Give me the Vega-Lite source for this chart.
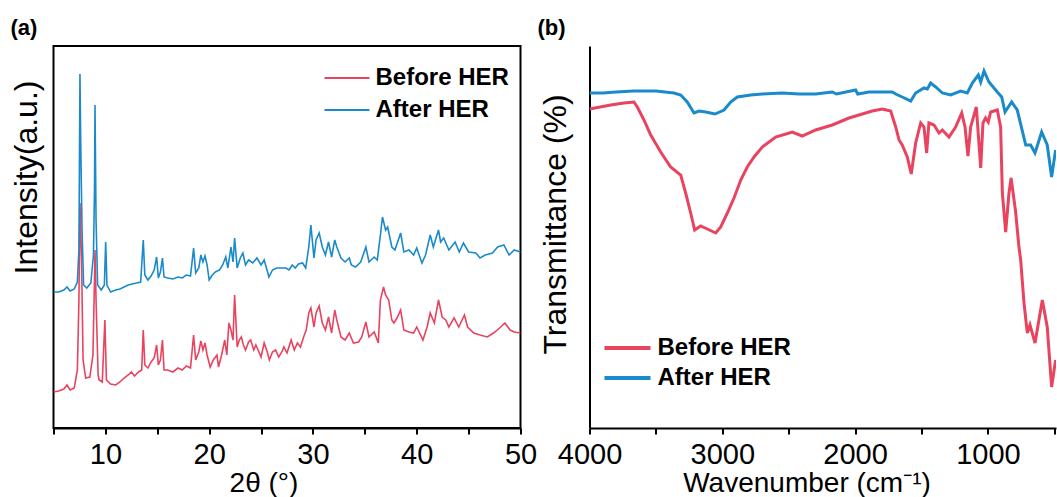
{
  "$schema": "https://vega.github.io/schema/vega-lite/v6.json",
  "background": "white",
  "padding": {"left": 9.5, "top": 16, "right": 0, "bottom": 0},
  "spacing": 69,
  "bounds": "flush",
  "resolve": {"scale": {"color": "independent"}, "legend": {"color": "independent"}},
  "config": {
    "font": "Liberation Sans",
    "view": {"stroke": "#000", "strokeWidth": 2},
    "axis": {"labelFont": "Liberation Sans", "titleFont": "Liberation Sans", "labelFontSize": 29, "titleFontSize": 30, "titleFontWeight": "normal", "labelColor": "#000", "titleColor": "#000", "domainColor": "#000", "tickColor": "#000", "domainWidth": 2, "tickWidth": 2, "tickSize": 6, "grid": false, "labelFlush": false, "labelOverlap": false},
    "legend": {"labelFont": "Liberation Sans", "labelFontSize": 24, "labelFontWeight": "bold", "labelColor": "#000", "padding": 0},
    "title": {"font": "Liberation Sans", "fontSize": 22, "fontWeight": "bold", "color": "#000", "anchor": "start", "frame": "bounds", "offset": 6}
  },
  "hconcat": [
    {
      "width": 467,
      "height": 382,
      "title": {"text": "(a)", "dx": 0},
      "data": {"values": [
        {"t":5,"v":36,"s":"Before HER"},{"t":5.5,"v":37,"s":"Before HER"},{"t":6,"v":39,"s":"Before HER"},{"t":6.3,"v":43,"s":"Before HER"},{"t":6.6,"v":38,"s":"Before HER"},{"t":7,"v":40,"s":"Before HER"},{"t":7.3,"v":58,"s":"Before HER"},{"t":7.45,"v":128,"s":"Before HER"},{"t":7.55,"v":225,"s":"Before HER"},{"t":7.7,"v":168,"s":"Before HER"},{"t":7.85,"v":68,"s":"Before HER"},{"t":8.1,"v":50,"s":"Before HER"},{"t":8.5,"v":51,"s":"Before HER"},{"t":8.8,"v":73,"s":"Before HER"},{"t":8.95,"v":148,"s":"Before HER"},{"t":9,"v":178,"s":"Before HER"},{"t":9.1,"v":128,"s":"Before HER"},{"t":9.3,"v":53,"s":"Before HER"},{"t":9.4,"v":48,"s":"Before HER"},{"t":9.7,"v":46,"s":"Before HER"},{"t":9.95,"v":108,"s":"Before HER"},{"t":10.1,"v":48,"s":"Before HER"},{"t":10.5,"v":44,"s":"Before HER"},{"t":11,"v":43,"s":"Before HER"},{"t":11.4,"v":46,"s":"Before HER"},{"t":11.8,"v":50,"s":"Before HER"},{"t":12.2,"v":53,"s":"Before HER"},{"t":12.5,"v":56,"s":"Before HER"},{"t":12.8,"v":52,"s":"Before HER"},{"t":13.2,"v":56,"s":"Before HER"},{"t":13.5,"v":58,"s":"Before HER"},{"t":13.65,"v":98,"s":"Before HER"},{"t":13.8,"v":63,"s":"Before HER"},{"t":14.1,"v":60,"s":"Before HER"},{"t":14.4,"v":66,"s":"Before HER"},{"t":14.7,"v":70,"s":"Before HER"},{"t":14.94,"v":83,"s":"Before HER"},{"t":15.1,"v":63,"s":"Before HER"},{"t":15.3,"v":68,"s":"Before HER"},{"t":15.5,"v":88,"s":"Before HER"},{"t":15.65,"v":58,"s":"Before HER"},{"t":16,"v":58,"s":"Before HER"},{"t":16.5,"v":56,"s":"Before HER"},{"t":17,"v":60,"s":"Before HER"},{"t":17.4,"v":58,"s":"Before HER"},{"t":17.8,"v":62,"s":"Before HER"},{"t":18.2,"v":60,"s":"Before HER"},{"t":18.5,"v":93,"s":"Before HER"},{"t":18.7,"v":68,"s":"Before HER"},{"t":19,"v":76,"s":"Before HER"},{"t":19.2,"v":87,"s":"Before HER"},{"t":19.4,"v":78,"s":"Before HER"},{"t":19.6,"v":85,"s":"Before HER"},{"t":19.8,"v":73,"s":"Before HER"},{"t":20.1,"v":61,"s":"Before HER"},{"t":20.4,"v":68,"s":"Before HER"},{"t":20.75,"v":73,"s":"Before HER"},{"t":20.9,"v":61,"s":"Before HER"},{"t":21.2,"v":73,"s":"Before HER"},{"t":21.5,"v":88,"s":"Before HER"},{"t":21.7,"v":73,"s":"Before HER"},{"t":21.9,"v":105,"s":"Before HER"},{"t":22.1,"v":98,"s":"Before HER"},{"t":22.3,"v":88,"s":"Before HER"},{"t":22.45,"v":133,"s":"Before HER"},{"t":22.7,"v":81,"s":"Before HER"},{"t":22.9,"v":88,"s":"Before HER"},{"t":23.1,"v":91,"s":"Before HER"},{"t":23.3,"v":83,"s":"Before HER"},{"t":23.5,"v":78,"s":"Before HER"},{"t":23.8,"v":86,"s":"Before HER"},{"t":24,"v":88,"s":"Before HER"},{"t":24.3,"v":78,"s":"Before HER"},{"t":24.5,"v":83,"s":"Before HER"},{"t":24.8,"v":76,"s":"Before HER"},{"t":25,"v":71,"s":"Before HER"},{"t":25.3,"v":85,"s":"Before HER"},{"t":25.6,"v":76,"s":"Before HER"},{"t":25.8,"v":68,"s":"Before HER"},{"t":26.1,"v":76,"s":"Before HER"},{"t":26.4,"v":78,"s":"Before HER"},{"t":26.7,"v":71,"s":"Before HER"},{"t":27,"v":76,"s":"Before HER"},{"t":27.2,"v":81,"s":"Before HER"},{"t":27.5,"v":75,"s":"Before HER"},{"t":27.9,"v":88,"s":"Before HER"},{"t":28.2,"v":78,"s":"Before HER"},{"t":28.5,"v":85,"s":"Before HER"},{"t":28.8,"v":81,"s":"Before HER"},{"t":29.1,"v":91,"s":"Before HER"},{"t":29.35,"v":98,"s":"Before HER"},{"t":29.6,"v":115,"s":"Before HER"},{"t":29.8,"v":120,"s":"Before HER"},{"t":30.1,"v":101,"s":"Before HER"},{"t":30.3,"v":115,"s":"Before HER"},{"t":30.6,"v":122,"s":"Before HER"},{"t":30.9,"v":105,"s":"Before HER"},{"t":31.2,"v":98,"s":"Before HER"},{"t":31.5,"v":111,"s":"Before HER"},{"t":31.8,"v":95,"s":"Before HER"},{"t":32.1,"v":118,"s":"Before HER"},{"t":32.3,"v":108,"s":"Before HER"},{"t":32.7,"v":91,"s":"Before HER"},{"t":33.1,"v":88,"s":"Before HER"},{"t":33.5,"v":95,"s":"Before HER"},{"t":33.9,"v":85,"s":"Before HER"},{"t":34.4,"v":86,"s":"Before HER"},{"t":34.7,"v":91,"s":"Before HER"},{"t":35.1,"v":106,"s":"Before HER"},{"t":35.4,"v":91,"s":"Before HER"},{"t":35.9,"v":96,"s":"Before HER"},{"t":36.3,"v":85,"s":"Before HER"},{"t":36.5,"v":128,"s":"Before HER"},{"t":36.8,"v":141,"s":"Before HER"},{"t":37,"v":133,"s":"Before HER"},{"t":37.3,"v":128,"s":"Before HER"},{"t":37.6,"v":108,"s":"Before HER"},{"t":37.8,"v":105,"s":"Before HER"},{"t":38.1,"v":110,"s":"Before HER"},{"t":38.45,"v":118,"s":"Before HER"},{"t":38.76,"v":98,"s":"Before HER"},{"t":39.25,"v":96,"s":"Before HER"},{"t":39.7,"v":95,"s":"Before HER"},{"t":40,"v":101,"s":"Before HER"},{"t":40.6,"v":88,"s":"Before HER"},{"t":41,"v":101,"s":"Before HER"},{"t":41.3,"v":115,"s":"Before HER"},{"t":41.7,"v":105,"s":"Before HER"},{"t":42.1,"v":128,"s":"Before HER"},{"t":42.45,"v":111,"s":"Before HER"},{"t":42.8,"v":108,"s":"Before HER"},{"t":43.1,"v":101,"s":"Before HER"},{"t":43.6,"v":110,"s":"Before HER"},{"t":44.05,"v":101,"s":"Before HER"},{"t":44.6,"v":113,"s":"Before HER"},{"t":44.9,"v":101,"s":"Before HER"},{"t":45.5,"v":95,"s":"Before HER"},{"t":46.1,"v":93,"s":"Before HER"},{"t":46.8,"v":91,"s":"Before HER"},{"t":47.4,"v":95,"s":"Before HER"},{"t":48.1,"v":101,"s":"Before HER"},{"t":48.5,"v":105,"s":"Before HER"},{"t":49,"v":98,"s":"Before HER"},{"t":49.4,"v":96,"s":"Before HER"},{"t":50,"v":95,"s":"Before HER"},
        {"t":5,"v":136,"s":"After HER"},{"t":5.5,"v":136,"s":"After HER"},{"t":6,"v":138,"s":"After HER"},{"t":6.3,"v":141,"s":"After HER"},{"t":6.6,"v":137,"s":"After HER"},{"t":7,"v":139,"s":"After HER"},{"t":7.3,"v":146,"s":"After HER"},{"t":7.45,"v":178,"s":"After HER"},{"t":7.55,"v":354,"s":"After HER"},{"t":7.62,"v":288,"s":"After HER"},{"t":7.75,"v":198,"s":"After HER"},{"t":7.9,"v":143,"s":"After HER"},{"t":8.2,"v":140,"s":"After HER"},{"t":8.6,"v":145,"s":"After HER"},{"t":8.85,"v":173,"s":"After HER"},{"t":8.95,"v":238,"s":"After HER"},{"t":9,"v":323,"s":"After HER"},{"t":9.1,"v":208,"s":"After HER"},{"t":9.25,"v":143,"s":"After HER"},{"t":9.6,"v":138,"s":"After HER"},{"t":9.9,"v":143,"s":"After HER"},{"t":10.03,"v":186,"s":"After HER"},{"t":10.15,"v":143,"s":"After HER"},{"t":10.5,"v":136,"s":"After HER"},{"t":11,"v":138,"s":"After HER"},{"t":11.4,"v":139,"s":"After HER"},{"t":11.8,"v":141,"s":"After HER"},{"t":12.2,"v":143,"s":"After HER"},{"t":12.6,"v":144,"s":"After HER"},{"t":13,"v":145,"s":"After HER"},{"t":13.4,"v":146,"s":"After HER"},{"t":13.65,"v":188,"s":"After HER"},{"t":13.8,"v":153,"s":"After HER"},{"t":14.1,"v":148,"s":"After HER"},{"t":14.4,"v":152,"s":"After HER"},{"t":14.7,"v":158,"s":"After HER"},{"t":14.94,"v":171,"s":"After HER"},{"t":15.1,"v":150,"s":"After HER"},{"t":15.3,"v":156,"s":"After HER"},{"t":15.5,"v":170,"s":"After HER"},{"t":15.65,"v":151,"s":"After HER"},{"t":16,"v":150,"s":"After HER"},{"t":16.5,"v":149,"s":"After HER"},{"t":17,"v":151,"s":"After HER"},{"t":17.4,"v":150,"s":"After HER"},{"t":17.8,"v":153,"s":"After HER"},{"t":18.2,"v":152,"s":"After HER"},{"t":18.5,"v":180,"s":"After HER"},{"t":18.7,"v":155,"s":"After HER"},{"t":19,"v":160,"s":"After HER"},{"t":19.2,"v":173,"s":"After HER"},{"t":19.4,"v":166,"s":"After HER"},{"t":19.6,"v":172,"s":"After HER"},{"t":19.8,"v":163,"s":"After HER"},{"t":20,"v":148,"s":"After HER"},{"t":20.3,"v":153,"s":"After HER"},{"t":20.6,"v":156,"s":"After HER"},{"t":21,"v":158,"s":"After HER"},{"t":21.3,"v":163,"s":"After HER"},{"t":21.6,"v":171,"s":"After HER"},{"t":21.8,"v":160,"s":"After HER"},{"t":22.1,"v":181,"s":"After HER"},{"t":22.3,"v":166,"s":"After HER"},{"t":22.45,"v":190,"s":"After HER"},{"t":22.7,"v":160,"s":"After HER"},{"t":23,"v":170,"s":"After HER"},{"t":23.25,"v":175,"s":"After HER"},{"t":23.5,"v":163,"s":"After HER"},{"t":23.8,"v":168,"s":"After HER"},{"t":24.2,"v":165,"s":"After HER"},{"t":24.6,"v":170,"s":"After HER"},{"t":25,"v":163,"s":"After HER"},{"t":25.3,"v":168,"s":"After HER"},{"t":25.76,"v":151,"s":"After HER"},{"t":26.1,"v":158,"s":"After HER"},{"t":26.5,"v":160,"s":"After HER"},{"t":27.1,"v":160,"s":"After HER"},{"t":27.4,"v":160,"s":"After HER"},{"t":27.7,"v":158,"s":"After HER"},{"t":28,"v":163,"s":"After HER"},{"t":28.3,"v":160,"s":"After HER"},{"t":28.6,"v":164,"s":"After HER"},{"t":29,"v":165,"s":"After HER"},{"t":29.3,"v":160,"s":"After HER"},{"t":29.6,"v":181,"s":"After HER"},{"t":29.8,"v":203,"s":"After HER"},{"t":30.1,"v":170,"s":"After HER"},{"t":30.3,"v":188,"s":"After HER"},{"t":30.6,"v":195,"s":"After HER"},{"t":30.9,"v":181,"s":"After HER"},{"t":31.2,"v":173,"s":"After HER"},{"t":31.5,"v":186,"s":"After HER"},{"t":31.8,"v":171,"s":"After HER"},{"t":32.1,"v":188,"s":"After HER"},{"t":32.3,"v":181,"s":"After HER"},{"t":32.7,"v":170,"s":"After HER"},{"t":33.1,"v":166,"s":"After HER"},{"t":33.5,"v":170,"s":"After HER"},{"t":33.7,"v":163,"s":"After HER"},{"t":34.1,"v":161,"s":"After HER"},{"t":34.6,"v":166,"s":"After HER"},{"t":35.1,"v":181,"s":"After HER"},{"t":35.4,"v":166,"s":"After HER"},{"t":35.9,"v":171,"s":"After HER"},{"t":36.2,"v":168,"s":"After HER"},{"t":36.5,"v":193,"s":"After HER"},{"t":36.7,"v":211,"s":"After HER"},{"t":37,"v":198,"s":"After HER"},{"t":37.2,"v":201,"s":"After HER"},{"t":37.6,"v":181,"s":"After HER"},{"t":37.9,"v":178,"s":"After HER"},{"t":38.45,"v":195,"s":"After HER"},{"t":38.76,"v":176,"s":"After HER"},{"t":39.25,"v":178,"s":"After HER"},{"t":39.7,"v":173,"s":"After HER"},{"t":40,"v":180,"s":"After HER"},{"t":40.5,"v":165,"s":"After HER"},{"t":40.85,"v":173,"s":"After HER"},{"t":41.3,"v":193,"s":"After HER"},{"t":41.6,"v":181,"s":"After HER"},{"t":42.1,"v":198,"s":"After HER"},{"t":42.3,"v":186,"s":"After HER"},{"t":42.6,"v":190,"s":"After HER"},{"t":43.1,"v":178,"s":"After HER"},{"t":43.7,"v":186,"s":"After HER"},{"t":44.1,"v":176,"s":"After HER"},{"t":44.5,"v":185,"s":"After HER"},{"t":45,"v":176,"s":"After HER"},{"t":45.7,"v":175,"s":"After HER"},{"t":46.1,"v":170,"s":"After HER"},{"t":46.6,"v":173,"s":"After HER"},{"t":47.3,"v":175,"s":"After HER"},{"t":47.8,"v":181,"s":"After HER"},{"t":48.4,"v":183,"s":"After HER"},{"t":48.9,"v":173,"s":"After HER"},{"t":49.4,"v":178,"s":"After HER"},{"t":50,"v":176,"s":"After HER"}
      ]},
      "mark": {"type": "line", "strokeWidth": 1.6, "clip": true},
      "encoding": {
        "x": {"field": "t", "type": "quantitative", "scale": {"domain": [5, 50], "nice": false, "zero": false},
          "axis": {"title": "2θ (°)", "titleFontSize": 28, "values": [5,10,15,20,25,30,35,40,45,50], "labelExpr": "datum.value % 10 === 0 ? datum.label : ''", "labelPadding": 6, "titlePadding": 0, "titleX": 210}},
        "y": {"field": "v", "type": "quantitative", "scale": {"domain": [0, 382], "nice": false},
          "axis": {"title": "Intensity(a.u.)", "titleFontSize": 32, "labels": false, "ticks": false, "domain": false, "titlePadding": 10, "titleY": 131}},
        "color": {"field": "s", "type": "nominal", "sort": null,
          "scale": {"domain": ["Before HER", "After HER"], "range": ["#E8435F", "#1A8ACB"]},
          "legend": {"title": null, "orient": "none", "legendX": 270, "legendY": 17, "symbolType": "stroke", "symbolSize": 2025, "symbolStrokeWidth": 2, "clipHeight": 30, "rowPadding": 2, "labelOffset": 5}}
      }
    },
    {
      "width": 466.5,
      "height": 382,
      "view": {"stroke": null},
      "title": {"text": "(b)", "dx": -2},
      "layer": [
        {
          "data": {"values": [
            {"w":4000,"v":319,"s":"Before HER"},{"w":3840,"v":323,"s":"Before HER"},{"w":3740,"v":325,"s":"Before HER"},{"w":3665,"v":326,"s":"Before HER"},{"w":3640,"v":321,"s":"Before HER"},{"w":3590,"v":308,"s":"Before HER"},{"w":3539,"v":293,"s":"Before HER"},{"w":3464,"v":276,"s":"Before HER"},{"w":3389,"v":261,"s":"Before HER"},{"w":3313,"v":253,"s":"Before HER"},{"w":3276,"v":235,"s":"Before HER"},{"w":3238,"v":215,"s":"Before HER"},{"w":3208,"v":198,"s":"Before HER"},{"w":3163,"v":202,"s":"Before HER"},{"w":3113,"v":199,"s":"Before HER"},{"w":3050,"v":195,"s":"Before HER"},{"w":3012,"v":201,"s":"Before HER"},{"w":2962,"v":215,"s":"Before HER"},{"w":2912,"v":230,"s":"Before HER"},{"w":2861,"v":248,"s":"Before HER"},{"w":2812,"v":261,"s":"Before HER"},{"w":2761,"v":271,"s":"Before HER"},{"w":2699,"v":281,"s":"Before HER"},{"w":2598,"v":291,"s":"Before HER"},{"w":2473,"v":296,"s":"Before HER"},{"w":2398,"v":292,"s":"Before HER"},{"w":2297,"v":298,"s":"Before HER"},{"w":2172,"v":303,"s":"Before HER"},{"w":2046,"v":310,"s":"Before HER"},{"w":1971,"v":313,"s":"Before HER"},{"w":1871,"v":317,"s":"Before HER"},{"w":1795,"v":319,"s":"Before HER"},{"w":1732,"v":317,"s":"Before HER"},{"w":1694,"v":301,"s":"Before HER"},{"w":1669,"v":288,"s":"Before HER"},{"w":1645,"v":283,"s":"Before HER"},{"w":1607,"v":271,"s":"Before HER"},{"w":1577,"v":254,"s":"Before HER"},{"w":1544,"v":285,"s":"Before HER"},{"w":1506,"v":305,"s":"Before HER"},{"w":1481,"v":301,"s":"Before HER"},{"w":1461,"v":275,"s":"Before HER"},{"w":1444,"v":305,"s":"Before HER"},{"w":1406,"v":303,"s":"Before HER"},{"w":1368,"v":295,"s":"Before HER"},{"w":1343,"v":298,"s":"Before HER"},{"w":1293,"v":291,"s":"Before HER"},{"w":1243,"v":301,"s":"Before HER"},{"w":1197,"v":315,"s":"Before HER"},{"w":1172,"v":301,"s":"Before HER"},{"w":1150,"v":272,"s":"Before HER"},{"w":1130,"v":301,"s":"Before HER"},{"w":1087,"v":321,"s":"Before HER"},{"w":1054,"v":260,"s":"Before HER"},{"w":1037,"v":305,"s":"Before HER"},{"w":1017,"v":310,"s":"Before HER"},{"w":997,"v":306,"s":"Before HER"},{"w":979,"v":316,"s":"Before HER"},{"w":929,"v":318,"s":"Before HER"},{"w":904,"v":301,"s":"Before HER"},{"w":891,"v":235,"s":"Before HER"},{"w":866,"v":196,"s":"Before HER"},{"w":841,"v":235,"s":"Before HER"},{"w":825,"v":250,"s":"Before HER"},{"w":791,"v":216,"s":"Before HER"},{"w":766,"v":181,"s":"Before HER"},{"w":753,"v":168,"s":"Before HER"},{"w":728,"v":125,"s":"Before HER"},{"w":703,"v":95,"s":"Before HER"},{"w":683,"v":103,"s":"Before HER"},{"w":645,"v":85,"s":"Before HER"},{"w":590,"v":128,"s":"Before HER"},{"w":553,"v":101,"s":"Before HER"},{"w":520,"v":41,"s":"Before HER"},{"w":490,"v":68,"s":"Before HER"},
            {"w":4000,"v":335,"s":"After HER"},{"w":3900,"v":335,"s":"After HER"},{"w":3800,"v":336,"s":"After HER"},{"w":3665,"v":337,"s":"After HER"},{"w":3500,"v":337,"s":"After HER"},{"w":3364,"v":335,"s":"After HER"},{"w":3313,"v":333,"s":"After HER"},{"w":3264,"v":326,"s":"After HER"},{"w":3213,"v":315,"s":"After HER"},{"w":3175,"v":317,"s":"After HER"},{"w":3125,"v":316,"s":"After HER"},{"w":3055,"v":314,"s":"After HER"},{"w":2987,"v":318,"s":"After HER"},{"w":2937,"v":326,"s":"After HER"},{"w":2887,"v":331,"s":"After HER"},{"w":2786,"v":333,"s":"After HER"},{"w":2700,"v":334,"s":"After HER"},{"w":2548,"v":335,"s":"After HER"},{"w":2422,"v":334,"s":"After HER"},{"w":2297,"v":334,"s":"After HER"},{"w":2172,"v":336,"s":"After HER"},{"w":2140,"v":334,"s":"After HER"},{"w":1996,"v":338,"s":"After HER"},{"w":1980,"v":334,"s":"After HER"},{"w":1895,"v":336,"s":"After HER"},{"w":1820,"v":336,"s":"After HER"},{"w":1745,"v":336,"s":"After HER"},{"w":1720,"v":336,"s":"After HER"},{"w":1694,"v":334,"s":"After HER"},{"w":1645,"v":331,"s":"After HER"},{"w":1581,"v":327,"s":"After HER"},{"w":1544,"v":335,"s":"After HER"},{"w":1481,"v":340,"s":"After HER"},{"w":1456,"v":339,"s":"After HER"},{"w":1431,"v":345,"s":"After HER"},{"w":1393,"v":341,"s":"After HER"},{"w":1343,"v":335,"s":"After HER"},{"w":1280,"v":333,"s":"After HER"},{"w":1205,"v":337,"s":"After HER"},{"w":1155,"v":335,"s":"After HER"},{"w":1117,"v":345,"s":"After HER"},{"w":1072,"v":353,"s":"After HER"},{"w":1054,"v":346,"s":"After HER"},{"w":1029,"v":357,"s":"After HER"},{"w":992,"v":346,"s":"After HER"},{"w":929,"v":336,"s":"After HER"},{"w":896,"v":331,"s":"After HER"},{"w":871,"v":316,"s":"After HER"},{"w":821,"v":326,"s":"After HER"},{"w":779,"v":318,"s":"After HER"},{"w":715,"v":283,"s":"After HER"},{"w":678,"v":283,"s":"After HER"},{"w":645,"v":275,"s":"After HER"},{"w":595,"v":296,"s":"After HER"},{"w":553,"v":283,"s":"After HER"},{"w":520,"v":251,"s":"After HER"},{"w":490,"v":278,"s":"After HER"}
          ]},
          "mark": {"type": "line", "strokeWidth": 3, "clip": true},
          "encoding": {
            "x": {"field": "w", "type": "quantitative", "scale": {"domain": [487, 4000], "reverse": true, "nice": false, "zero": false},
              "axis": {"title": "Wavenumber (cm⁻¹)", "titleFontSize": 28, "values": [4000,3500,3000,2500,2000,1500,1000,500], "labelExpr": "datum.value % 1000 === 0 ? datum.label : ''", "format": "d", "labelPadding": 6, "titlePadding": 0, "titleX": 217}},
            "y": {"field": "v", "type": "quantitative", "scale": {"domain": [0, 382], "nice": false},
              "axis": {"title": "Transmittance (%)", "titleFontSize": 32, "labels": false, "ticks": false, "domain": true, "titlePadding": 17, "titleY": 178}},
            "color": {"field": "s", "type": "nominal", "sort": null,
              "scale": {"domain": ["Before HER", "After HER"], "range": ["#E8435F", "#1A8ACB"]},
              "legend": {"title": null, "orient": "none", "legendX": 13, "legendY": 287, "symbolType": "stroke", "symbolSize": 2116, "symbolStrokeWidth": 4, "clipHeight": 30, "rowPadding": 0, "labelOffset": 5}}
          }
        },
        {
          "mark": {"type": "rule", "color": "#000", "strokeWidth": 2},
          "encoding": {"y": {"datum": 382}}
        }
      ]
    }
  ]
}
